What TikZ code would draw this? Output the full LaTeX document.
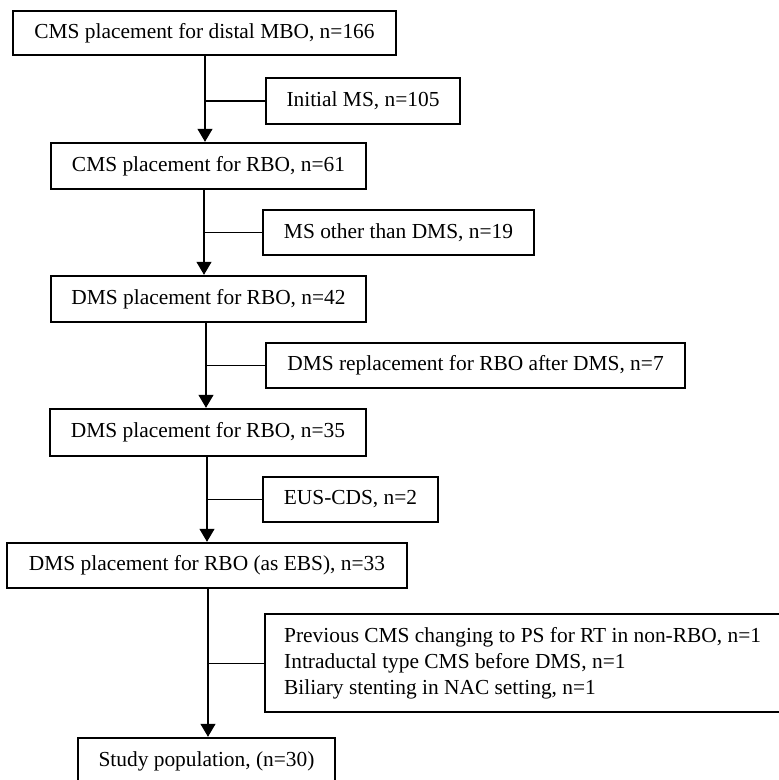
\documentclass[tikz,border=0pt]{standalone}
\usepackage{fontspec}
\setmainfont{Liberation Serif}
\usetikzlibrary{arrows.meta}

\tikzset{
	box/.style={draw, line width=2.4pt, rectangle, inner sep=0pt, font=\fontsize{21.4}{26}\selectfont},
	arr/.style={line width=1.2pt, -{Triangle[length=13pt,width=15pt]}},
	side/.style={line width=1.2pt}
}

\begin{document}
\begin{tikzpicture}[x=1pt,y=-1pt]
	% page frame
	\clip (0,0) rectangle (779,780);
	\fill[white] (0,0) rectangle (779,780);

	% main stream
	\node[box, minimum width=383pt, minimum height=44pt] (b1) at (204.5,33) {CMS placement for distal MBO, n=166};
	\node[box, minimum width=315pt, minimum height=46pt] (b2) at (208.5,166) {CMS placement for RBO, n=61};
	\node[box, minimum width=315pt, minimum height=46pt] (b3) at (208.5,299) {DMS placement for RBO, n=42};
	\node[box, minimum width=316pt, minimum height=47pt] (b4) at (208,432.5) {DMS placement for RBO, n=35};
	\node[box, minimum width=400pt, minimum height=45pt] (b5) at (207,565.5) {DMS placement for RBO (as EBS), n=33};
	\node[box, minimum width=257pt, minimum height=46pt] (b6) at (206.5,761) {Study population, (n=30)};

	% excluded
	\node[box, minimum width=194pt, minimum height=46pt] (e1) at (363,101) {Initial MS, n=105};
	\node[box, minimum width=271pt, minimum height=45pt] (e2) at (398.5,232.5) {MS other than DMS, n=19};
	\node[box, minimum width=419pt, minimum height=45pt] (e3) at (475.5,365.5) {DMS replacement for RBO after DMS, n=7};
	\node[box, minimum width=175pt, minimum height=45pt] (e4) at (350.5,499.5) {EUS-CDS, n=2};
	\node[box, anchor=north west, minimum height=98pt, text width=498pt, inner xsep=19pt, align=flush left] (e5) at (264,613)
		{Previous CMS changing to PS for RT in non-RBO, n=1\\
		 Intraductal type CMS before DMS, n=1\\
		 Biliary stenting in NAC setting, n=1};

	% arrow positions
	\coordinate (a1) at (205,0);
	\coordinate (a2) at (204,0);
	\coordinate (a3) at (206,0);
	\coordinate (a4) at (207,0);
	\coordinate (a5) at (208,0);

	% arrows
	\draw[arr] (b1.south -| a1) -- (b2.north -| a1);
	\draw[arr] (b2.south -| a2) -- (b3.north -| a2);
	\draw[arr] (b3.south -| a3) -- (b4.north -| a3);
	\draw[arr] (b4.south -| a4) -- (b5.north -| a4);
	\draw[arr] (b5.south -| a5) -- (b6.north -| a5);

	% side branches
	\draw[side] (a1 |- e1.west) -- (e1.west);
	\draw[side] (a2 |- e2.west) -- (e2.west);
	\draw[side] (a3 |- e3.west) -- (e3.west);
	\draw[side] (a4 |- e4.west) -- (e4.west);
	\draw[side] (a5 |- e5.west) -- (e5.west);
\end{tikzpicture}
\end{document}
